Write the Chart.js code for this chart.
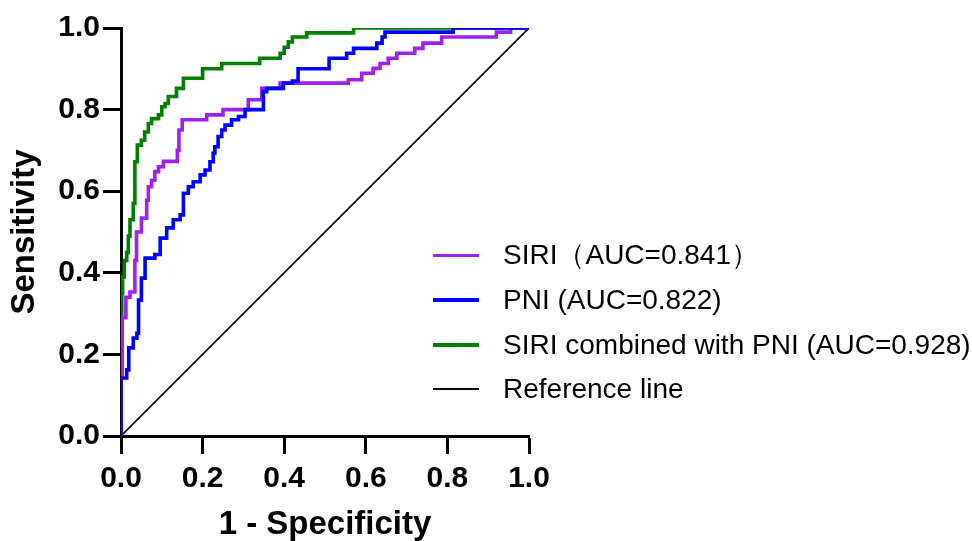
<!DOCTYPE html>
<html>
<head>
<meta charset="utf-8">
<script src="https://cdn.jsdelivr.net/npm/chart.js@4.4.0/dist/chart.umd.min.js"></script>
<style>
    html, body { margin: 0; padding: 0; background: #fff; }
    #wrap { position: relative; width: 972px; height: 541px; }
    #legend {
        position: absolute; left: 433px; top: 233px;
        font-family: "Liberation Sans", Arial, sans-serif; font-size: 28px; color: #000;
    }
    .row { display: flex; align-items: center; height: 44.7px; }
    .swatch { width: 46px; margin-right: 24px; }
</style>
</head>
<body>
<div id="wrap">
    <canvas id="rocChart" width="972" height="541"></canvas>
    <div id="legend"></div>
</div>
<script>
// ROC curves: x = 1 - specificity, y = sensitivity

const tickValues = [0, 0.2, 0.4, 0.6, 0.8, 1.0];
const tickLabels = ['0.0', '0.2', '0.4', '0.6', '0.8', '1.0'];

const siriFpr = [0, 0, 0.003, 0.012, 0.022, 0.034, 0.038, 0.05, 0.063, 0.067, 0.075, 0.083, 0.092, 0.104, 0.138, 0.142, 0.15, 0.21, 0.25, 0.312, 0.345, 0.39, 0.557, 0.59, 0.618, 0.635, 0.655, 0.676, 0.72, 0.74, 0.786, 0.92, 0.955, 1.0];
const siriTpr = [0, 0.145, 0.29, 0.34, 0.353, 0.43, 0.50, 0.534, 0.578, 0.611, 0.627, 0.648, 0.66, 0.673, 0.70, 0.75, 0.775, 0.787, 0.80, 0.824, 0.852, 0.865, 0.873, 0.889, 0.901, 0.913, 0.926, 0.938, 0.95, 0.963, 0.978, 0.99, 1.0, 1.0];

const pniFpr = [0, 0, 0.014, 0.019, 0.03, 0.039, 0.043, 0.05, 0.059, 0.083, 0.096, 0.112, 0.128, 0.145, 0.153, 0.165, 0.177, 0.194, 0.206, 0.218, 0.226, 0.23, 0.238, 0.247, 0.255, 0.271, 0.288, 0.304, 0.349, 0.357, 0.398, 0.42, 0.434, 0.51, 0.553, 0.57, 0.627, 0.64, 0.647, 0.814, 1.0];
const pniTpr = [0, 0.142, 0.162, 0.216, 0.24, 0.252, 0.333, 0.387, 0.436, 0.445, 0.485, 0.51, 0.53, 0.542, 0.595, 0.611, 0.623, 0.64, 0.652, 0.672, 0.693, 0.709, 0.734, 0.75, 0.762, 0.775, 0.783, 0.80, 0.844, 0.852, 0.865, 0.87, 0.90, 0.926, 0.938, 0.95, 0.963, 0.978, 0.99, 1.0, 1.0];

const combFpr = [0, 0, 0.002, 0.004, 0.008, 0.014, 0.018, 0.022, 0.03, 0.034, 0.04, 0.05, 0.058, 0.067, 0.075, 0.092, 0.10, 0.108, 0.116, 0.136, 0.153, 0.20, 0.247, 0.34, 0.39, 0.40, 0.41, 0.42, 0.455, 0.57, 1.0];
const combTpr = [0, 0.30, 0.35, 0.39, 0.43, 0.45, 0.49, 0.53, 0.57, 0.672, 0.713, 0.725, 0.745, 0.766, 0.778, 0.787, 0.807, 0.815, 0.832, 0.852, 0.877, 0.90, 0.913, 0.926, 0.938, 0.953, 0.966, 0.978, 0.988, 1.0, 1.0];

const refFpr = [0, 1];
const refTpr = [0, 1];

const seriesNames = ['SIRI\uFF08AUC=0.841\uFF09', 'PNI (AUC=0.822)', 'SIRI combined with PNI (AUC=0.928)', 'Reference line'];
const seriesColors = ['#a020f0', '#0000ff', '#008000', '#000000'];

const FONT = '"Liberation Sans", Arial, sans-serif';

function toPoints(xs, ys) {
    return xs.map((x, i) => ({ x: x, y: ys[i] }));
}

function curve(idx, xs, ys, order) {
    return {
        label: seriesNames[idx],
        data: toPoints(xs, ys),
        borderColor: seriesColors[idx],
        borderWidth: 3.6,
        stepped: 'before',
        pointRadius: 0,
        fill: false,
        order: order
    };
}

const axisCommon = {
    type: 'linear',
    min: 0,
    max: 1,
    grid: { drawOnChartArea: false, drawTicks: true, tickLength: 18, tickWidth: 3, tickColor: '#000' },
    border: { display: true, width: 3, color: '#000' },
    afterBuildTicks: s => { s.ticks = tickValues.map(v => ({ value: v })); },
    ticks: {
        color: '#000',
        font: { family: FONT, size: 30, weight: 'bold' },
        callback: (v, i) => tickLabels[i]
    }
};

new Chart(document.getElementById('rocChart').getContext('2d'), {
    type: 'line',
    data: {
        datasets: [
            curve(1, pniFpr, pniTpr, 1),
            curve(0, siriFpr, siriTpr, 2),
            curve(2, combFpr, combTpr, 3),
            {
                label: seriesNames[3],
                data: toPoints(refFpr, refTpr),
                borderColor: seriesColors[3],
                borderWidth: 1.7,
                pointRadius: 0,
                fill: false,
                order: 4
            }
        ]
    },
    options: {
        responsive: false,
        animation: false,
        layout: { padding: { left: 0, top: 28, right: 443, bottom: 0 } },
        plugins: { legend: { display: false }, tooltip: { enabled: false } },
        scales: {
            x: Object.assign({}, axisCommon, {
                position: 'bottom',
                ticks: Object.assign({}, axisCommon.ticks, { padding: 7, maxRotation: 0 }),
                title: { display: true, text: '1 - Specificity', color: '#000', font: { family: FONT, size: 33, weight: 'bold', lineHeight: 1 }, padding: { top: 0, bottom: 0 } },
                afterFit: s => { s.height = 105; }
            }),
            y: Object.assign({}, axisCommon, {
                position: 'left',
                ticks: Object.assign({}, axisCommon.ticks, { padding: 3 }),
                title: { display: true, text: 'Sensitivity', color: '#000', font: { family: FONT, size: 33, weight: 'bold', lineHeight: 1 }, padding: { top: 8, bottom: 0 } },
                afterFit: s => { s.width = 121; }
            })
        }
    }
});

// legend drawn as html over the lower right of the plot
const legendThickness = [3.5, 3.5, 4, 2];
const legendEl = document.getElementById('legend');
seriesNames.forEach((name, i) => {
    const row = document.createElement('div');
    row.className = 'row';
    row.innerHTML = `<span class="swatch" style="height:${legendThickness[i]}px;background:${seriesColors[i]}"></span><span>${name}</span>`;
    legendEl.appendChild(row);
});
</script>
</body>
</html>
